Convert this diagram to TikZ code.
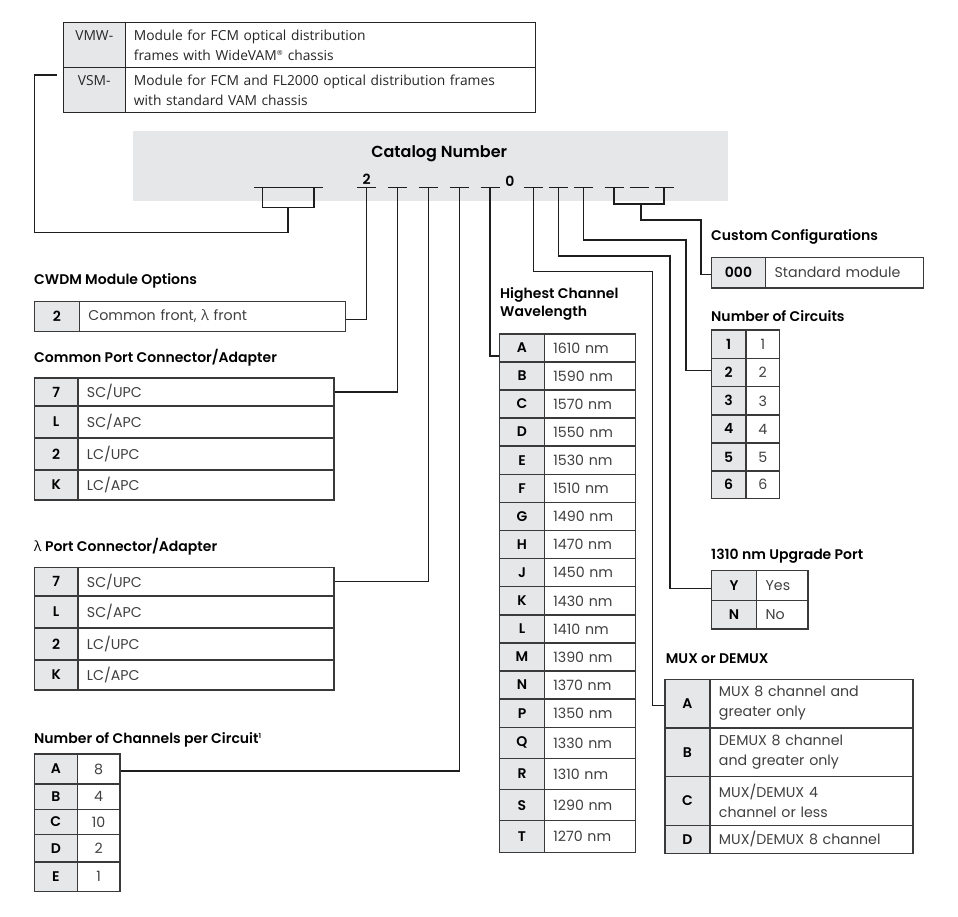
\documentclass[tikz,border=0pt]{standalone}
\usepackage{fontspec}
\setmainfont{Poppins}[BoldFont={Poppins SemiBold}]
\newfontfamily\topf{Open Sans}
\newfontfamily\lamf{Open Sans}
\definecolor{keyg}{HTML}{E6E7E8}
\definecolor{bordc}{HTML}{3A3A3A}
\definecolor{linec}{HTML}{1E1E1E}
\definecolor{txtc}{HTML}{404040}
\newcommand\valfont{\fontsize{14.2}{20}\selectfont\color{txtc}}
\newcommand\keyfont{\fontsize{14}{18}\selectfont\bfseries\color{black}}
\newcommand\ttlfont{\fontsize{14}{18.3}\selectfont\bfseries\color{black}}
\newcommand\topfont{\topf\fontsize{13.8}{20}\selectfont\color{black!85}}
\tikzset{
  tb/.style={draw=bordc, line width=1.3pt, inner sep=0pt, anchor=north west},
  keyc/.style={tb, fill=keyg, font=\keyfont},
  valc/.style={tb, fill=white, font=\valfont, align=left, inner xsep=9pt},
  conn/.style={draw=linec, line width=1.2pt},
  slotline/.style={draw=linec, line width=1.5pt},
  ttl/.style={anchor=west, font=\ttlfont, inner sep=0pt},
}
% name, x0, xdiv, x1, ytop, ybot, key, value
\newcommand\tr[8]{%
  \node[keyc, minimum width={(#3-#2)*1pt}, minimum height={(#6-#5)*1pt}] (#1k) at (#2,#5) {#7};
  \node[valc, minimum width={(#4-#3)*1pt}, text width={(#4-#3-18)*1pt}, minimum height={(#6-#5)*1pt}] (#1v) at (#3,#5) {#8};
}
\begin{document}
\begin{tikzpicture}[x=1pt,y=-1pt]
\useasboundingbox (0,0) rectangle (958,916);
\fill[white] (0,0) rectangle (958,916);

% catalog number box
\fill[keyg] (133,131) rectangle (728,200.5);
\node[font=\fontsize{16}{18}\selectfont\bfseries, inner sep=0pt] (cat) at (439.2,153.3) {Catalog Number};
\node[font=\fontsize{14}{16}\selectfont\bfseries, inner sep=0pt] (d2) at (366.7,179) {2};
\node[font=\fontsize{14}{16}\selectfont\bfseries, inner sep=0pt] (d0) at (510,181) {0};

% slot positions
\coordinate (g0a) at (262.7,187.7);
\coordinate (g0b) at (314,187.7);
\coordinate (g0j) at (288,207.3);
\coordinate (c0a) at (34.3,232.3);
\coordinate (vsmend) at (57,75);
\coordinate (s1) at (366.7,187.7);
\coordinate (s2) at (397.3,187.7);
\coordinate (s3) at (428.3,187.7);
\coordinate (s4) at (459.3,187.7);
\coordinate (s5) at (490,187.7);
\coordinate (s6) at (533.3,187.7);
\coordinate (s7) at (558.3,187.7);
\coordinate (s8) at (583.3,187.7);
\coordinate (c1) at (614,187.7);
\coordinate (c2) at (639,187.7);
\coordinate (c3) at (664,187.7);
\coordinate (j6) at (652.3,271.7);
\coordinate (j7) at (670,256);
\coordinate (j8) at (686,240);
\coordinate (cj) at (641,204);
\coordinate (cj2) at (701,220);

\draw[slotline] (254,187.7) -- (323.3,187.7);
\foreach \s in {s1,s2,s3,s4,s5,s6,s7,s8,c1,c2,c3}
  \draw[slotline] ([xshift=-9.5pt]\s) -- ([xshift=9.5pt]\s);

% ---------- tables ----------
% top table
\node[keyc, draw=black!85, line width=1.1pt, font=\topfont, align=left, inner xsep=8pt, minimum width=62pt, minimum height=45.3pt] (vmwk) at (62.7,22) {VMW-\\\mbox{}};
\node[valc, draw=black!85, line width=1.1pt, font=\topfont, inner xsep=8.6pt, minimum width=410.3pt, text width=393pt, minimum height=45.3pt] (vmwv) at (124.7,22) {Module for FCM optical distribution\\frames with WideVAM\textsuperscript{\scriptsize ®} chassis};
\node[keyc, draw=black!85, line width=1.1pt, font=\topfont, align=left, inner xsep=8pt, minimum width=62pt, minimum height=44.4pt] (vsmk) at (62.7,67.3) {VSM-\\\mbox{}};
\node[valc, draw=black!85, line width=1.1pt, font=\topfont, inner xsep=8.6pt, minimum width=410.3pt, text width=393pt, minimum height=44.4pt] (vsmv) at (124.7,67.3) {Module for FCM and FL2000 optical distribution frames\\with standard VAM chassis};

% CWDM
\node[ttl] (tcw) at (34,281) {CWDM Module Options};
\tr{cw}{33.7}{78.7}{345}{300.7}{330.7}{2}{Common front, {\lamf λ} front}

% Common port
\node[ttl] (tcp) at (34,357.3) {Common Port Connector/Adapter};
\tr{cp1}{33.7}{77.3}{333.3}{377.3}{405.3}{7}{SC/UPC}
\tr{cp2}{33.7}{77.3}{333.3}{405.3}{437.3}{L}{SC/APC}
\tr{cp3}{33.7}{77.3}{333.3}{437.3}{469.3}{2}{LC/UPC}
\tr{cp4}{33.7}{77.3}{333.3}{469.3}{499.3}{K}{LC/APC}

% lambda port
\node[ttl] (tlp) at (34,546.7) {{\lamf\mdseries λ} Port Connector/Adapter};
\tr{lp1}{33.7}{77.3}{333.3}{567}{595.3}{7}{SC/UPC}
\tr{lp2}{33.7}{77.3}{333.3}{595.3}{627.3}{L}{SC/APC}
\tr{lp3}{33.7}{77.3}{333.3}{627.3}{659.3}{2}{LC/UPC}
\tr{lp4}{33.7}{77.3}{333.3}{659.3}{689.3}{K}{LC/APC}

% channels per circuit
\node[ttl] (tnc) at (34,740) {Number of Channels per Circuit\raisebox{5pt}{\fontsize{7}{7}\selectfont 1}};
\tikzset{valc/.append style={align=center}}
\tr{nc1}{33.7}{76.7}{119.3}{753.3}{783.3}{A}{8}
\tr{nc2}{33.7}{76.7}{119.3}{783.3}{808.7}{B}{4}
\tr{nc3}{33.7}{76.7}{119.3}{808.7}{834}{C}{10}
\tr{nc4}{33.7}{76.7}{119.3}{834}{861.3}{D}{2}
\tr{nc5}{33.7}{76.7}{119.3}{861.3}{891}{E}{1}

% number of circuits
\node[ttl] (tci) at (711,316) {Number of Circuits};
\tr{ci1}{710.7}{745.3}{779}{329.3}{357.7}{1}{1}
\tr{ci2}{710.7}{745.3}{779}{357.7}{386}{2}{2}
\tr{ci3}{710.7}{745.3}{779}{386}{414.3}{3}{3}
\tr{ci4}{710.7}{745.3}{779}{414.3}{442.3}{4}{4}
\tr{ci5}{710.7}{745.3}{779}{442.3}{470.3}{5}{5}
\tr{ci6}{710.7}{745.3}{779}{470.3}{497.7}{6}{6}
\tikzset{valc/.append style={align=left}}

% highest channel wavelength
\node[ttl, align=left, anchor=north west] (thw) at (500,287.5) {Highest Channel\\Wavelength};
\foreach \k/\w/\a/\b [count=\i] in {A/1610/333.3/361.3, B/1590/361.3/389.3, C/1570/389.3/417.3, D/1550/417.3/445.3, E/1530/445.3/473.7, F/1510/473.7/501.7, G/1490/501.7/530, H/1470/530/558, J/1450/558/586, K/1430/586/614.3, L/1410/614.3/642.3, M/1390/642.3/670.3, N/1370/670.3/698.3, P/1350/698.3/726.7, Q/1330/726.7/757.7, R/1310/757.7/789, S/1290/789/820, T/1270/820/851.7}
  {\tr{hw\i}{499}{543.7}{635}{\a}{\b}{\k}{\w~nm}}

% custom configurations
\node[ttl] (tcc) at (711,236.7) {Custom Configurations};
\tr{cc}{710.7}{765}{922.7}{256.7}{287.3}{000}{Standard module}

% upgrade port
\node[ttl] (tup) at (711,556) {1310 nm Upgrade Port};
\tr{up1}{710.7}{756}{807.3}{570}{600}{Y}{Yes}
\tr{up2}{710.7}{756}{807.3}{600}{628.3}{N}{No}

% mux or demux
\node[ttl] (tmx) at (665.7,659) {MUX or DEMUX};
\tr{mx1}{664.3}{709.3}{912.3}{678.7}{727.3}{A}{MUX 8 channel and\\greater only}
\tr{mx2}{664.3}{709.3}{912.3}{727.3}{776}{B}{DEMUX 8 channel\\and greater only}
\tr{mx3}{664.3}{709.3}{912.3}{776}{824.7}{C}{MUX/DEMUX 4\\channel or less}
\tr{mx4}{664.3}{709.3}{912.3}{824.7}{852.7}{D}{MUX/DEMUX 8 channel}

% ---------- connectors ----------
\draw[conn] (g0a) |- (g0j) -| (g0b);
\draw[conn] (g0j) |- (c0a) |- (vsmend);
\draw[conn] (s1) |- ([yshift=-3pt]cwv.east);
\draw[conn] (s2) |- (cp1v.east);
\draw[conn] (s3) |- (lp1v.east);
\draw[conn] (s4) |- ([yshift=-2pt]nc1v.east);
\draw[conn] (s5) |- ([yshift=-8pt]hw1k.west);
\draw[conn] (s6) |- (j6) |- ([yshift=-2pt]mx1k.west);
\draw[conn] (s7) |- (j7) |- ([yshift=-3pt]up1k.west);
\draw[conn] (s8) |- (j8) |- ([yshift=2pt]ci2k.west);
\draw[conn] (c1) |- (cj) -| (c3);
\draw[conn] (cj) |- (cj2) |- ([yshift=-2pt]cck.west);
\end{tikzpicture}
\end{document}
